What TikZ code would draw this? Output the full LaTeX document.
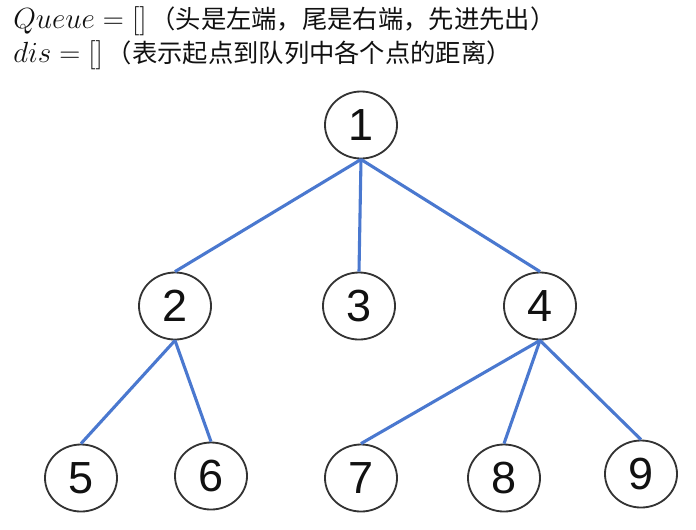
\documentclass[tikz,border=0pt]{standalone}
\usepackage{fontspec}
\usetikzlibrary{shapes.geometric}
\newfontfamily\cjk{Noto Sans CJK SC}
\newfontfamily\digits{Liberation Sans}
\definecolor{link}{HTML}{4A78CF}
\definecolor{ring}{HTML}{333333}
\definecolor{ink}{HTML}{111111}

\begin{document}
\begin{tikzpicture}[x=0.025cm,y=-0.025cm,
    vertex/.style={ellipse,draw=ring,line width=1.3pt,minimum width=1.8cm,
      minimum height=1.675cm,inner sep=0pt,text=ink,font=\digits\fontsize{32}{32}\selectfont},
    tree edge/.style={draw=link,line width=2.2pt},
    caption/.style={anchor=base west,inner sep=0pt,text=ink,font=\fontsize{18}{20}\selectfont}]
  \useasboundingbox (0,0) rectangle (696,529);

  % the two lines of text at the top
  \node[caption] (queue) at (13,28)
    {{\fontsize{19.5}{20}\selectfont$Queue=[]$}\hspace{0.15em}\cjk（头是左端，尾是右端，先进先出）};
  \node[caption] (dis) at (13,62)
    {{\fontsize{19.5}{20}\selectfont$dis=[]$}\hspace{0.15em}\cjk（表示起点到队列中各个点的距离）};

  \foreach \n/\px/\py in {1/361/125, 2/175/306, 3/359/306, 4/540/306,
      5/81/478, 6/211/476, 7/361/478, 8/504/478, 9/641/474}
    \node[vertex] (v\n) at (\px,\py) {\n};

  \foreach \a/\b in {1/2,1/3,1/4,2/5,2/6,4/7,4/8,4/9}
    \draw[tree edge] (v\a.south) -- (v\b.north);
\end{tikzpicture}
\end{document}
